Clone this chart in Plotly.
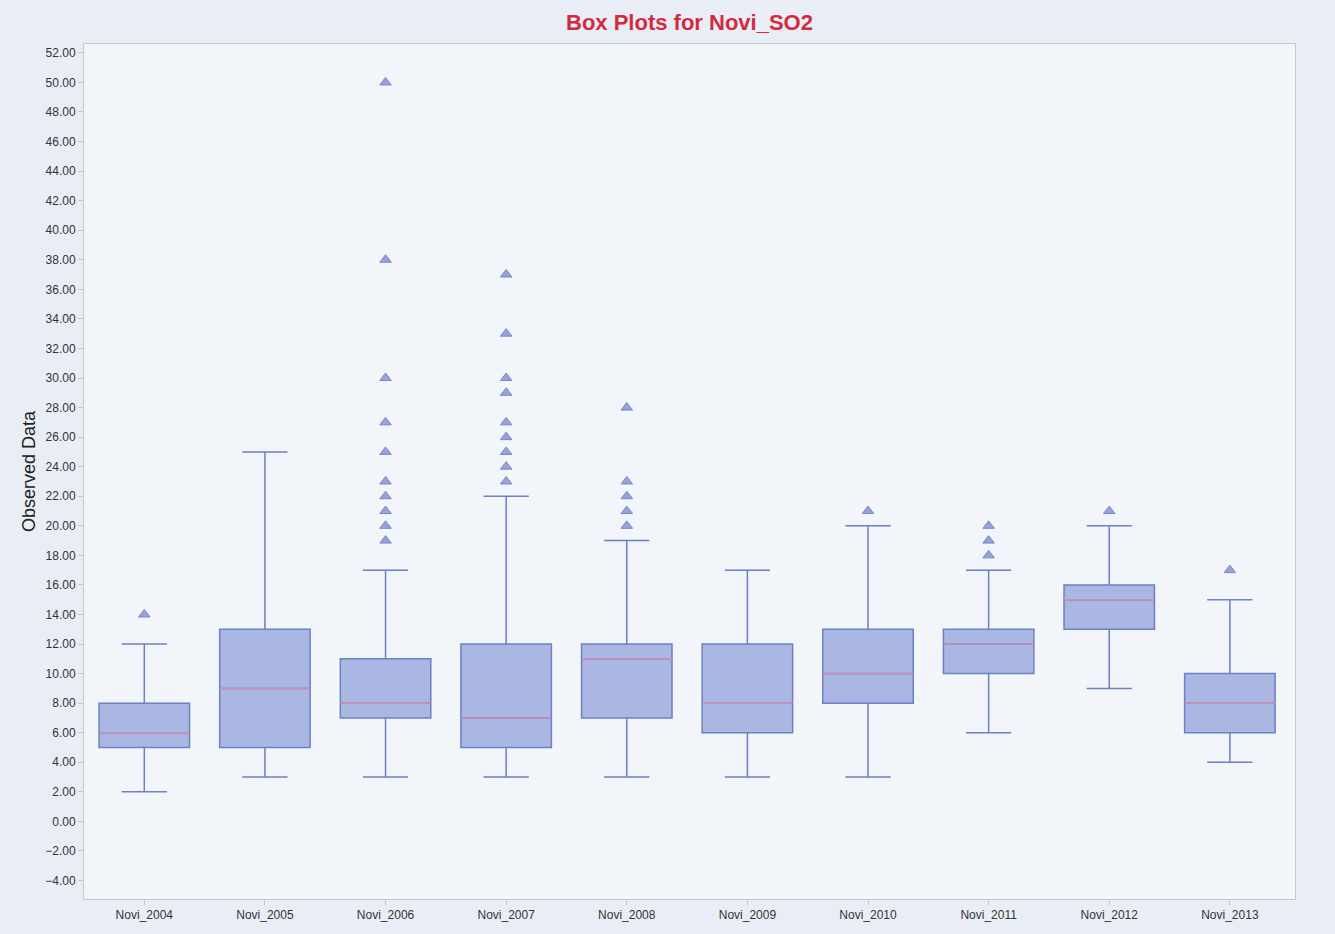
import plotly.graph_objects as go

# ---- data ----
categories = ["Novi_2004", "Novi_2005", "Novi_2006", "Novi_2007", "Novi_2008",
              "Novi_2009", "Novi_2010", "Novi_2011", "Novi_2012", "Novi_2013"]
lower_whisker = [2, 3, 3, 3, 3, 3, 3, 6, 9, 4]
q1_values = [5, 5, 7, 5, 7, 6, 8, 10, 13, 6]
median_values = [6, 9, 8, 7, 11, 8, 10, 12, 15, 8]
q3_values = [8, 13, 11, 12, 12, 12, 13, 13, 16, 10]
upper_whisker = [12, 25, 17, 22, 19, 17, 20, 17, 20, 15]

outliers_2004 = [14]
outliers_2005 = []
outliers_2006 = [19, 20, 21, 22, 23, 25, 27, 30, 38, 50]
outliers_2007 = [23, 24, 25, 26, 27, 29, 30, 33, 37]
outliers_2008 = [20, 21, 22, 23, 28]
outliers_2009 = []
outliers_2010 = [21]
outliers_2011 = [18, 19, 20]
outliers_2012 = [21]
outliers_2013 = [17]

y_ticks = list(range(-4, 53, 2))

# ---- styles ----
BOX_FILL = "#a9b7e2"
BOX_LINE = "#6c80c4"
MEDIAN_LINE = "#d08cb2"
TRI_FILL = "#97a2dc"
TRI_LINE = "#7b87c6"

outlier_lists = [outliers_2004, outliers_2005, outliers_2006, outliers_2007, outliers_2008,
                 outliers_2009, outliers_2010, outliers_2011, outliers_2012, outliers_2013]
out_x, out_y = [], []
for cat, vals in zip(categories, outlier_lists):
    for v in vals:
        out_x.append(cat)
        out_y.append(v)

fig = go.Figure()

fig.add_trace(go.Box(
    x=categories, q1=q1_values, median=median_values, q3=q3_values,
    lowerfence=lower_whisker, upperfence=upper_whisker,
    fillcolor=BOX_FILL, line=dict(color=BOX_LINE, width=1.5),
    width=0.75, whiskerwidth=0.5, boxpoints=False, name="SO2",
))

# median drawn in pink on top (zero-height box at the median)
fig.add_trace(go.Box(
    x=categories, q1=median_values, median=median_values, q3=median_values,
    lowerfence=median_values, upperfence=median_values,
    fillcolor="rgba(0,0,0,0)", line=dict(color=MEDIAN_LINE, width=1.5),
    width=0.75, whiskerwidth=1, boxpoints=False, hoverinfo="skip", name="median",
))

fig.add_trace(go.Scatter(
    x=out_x, y=out_y, mode="markers",
    marker=dict(symbol="triangle-up", size=10, color=TRI_FILL,
                line=dict(color=TRI_LINE, width=1)),
    name="outliers",
))

fig.update_layout(
    width=1335, height=934,
    margin=dict(l=84, r=40, t=44, b=33),
    paper_bgcolor="#e9eef6",
    plot_bgcolor="#f2f5fa",
    boxmode="overlay",
    showlegend=False,
    font=dict(family="Arial, Liberation Sans, sans-serif", color="#333333"),
    title=dict(
        text="<b>Box Plots for Novi_SO2</b>",
        font=dict(size=22, color="#d22a3e", family="Arial, Liberation Sans, sans-serif"),
        x=0.5, xref="paper", xanchor="center",
        y=1 - 22 / 934, yref="container", yanchor="middle",
    ),
    xaxis=dict(
        type="category", range=[-0.5, 9.54],
        showline=True, linecolor="#c4c8d0", linewidth=1, mirror=True,
        ticks="outside", ticklen=5, tickcolor="#c4c8d0",
        showgrid=False, zeroline=False,
        tickfont=dict(size=12, color="#333333"),
    ),
    yaxis=dict(
        range=[-5.25, 52.6],
        tickvals=y_ticks, tickformat=".2f",
        showline=True, linecolor="#c4c8d0", linewidth=1, mirror=True,
        ticks="outside", ticklen=5, tickcolor="#c4c8d0",
        showgrid=False, zeroline=False,
        tickfont=dict(size=12, color="#333333"),
        title=dict(text="Observed Data", font=dict(size=18, color="#222222"), standoff=4),
    ),
)

fig.write_html("out.html")
